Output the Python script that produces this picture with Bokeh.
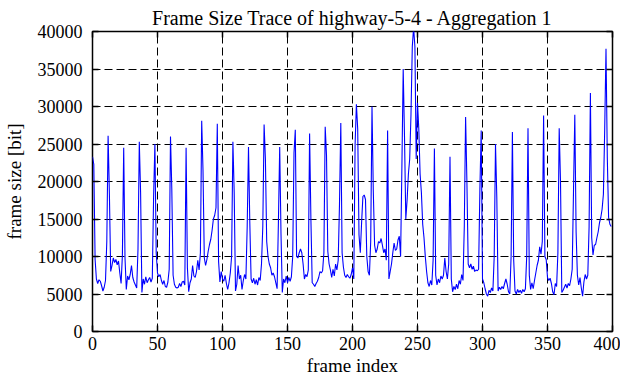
from bokeh.plotting import figure
from bokeh.models import Range1d, LinearAxis, FixedTicker, ColumnDataSource
from bokeh.embed import file_html
from bokeh.resources import INLINE

# Frame sizes [bit] per frame index
frame_sizes = [
    23300, 22300, 9600, 7000, 6400, 6900, 6700, 6100, 5400, 5900,
    6800, 12000, 26100, 18300, 8000, 8800, 9800, 9200, 9600, 8900,
    9400, 7800, 6400, 10200, 24500, 9800, 5600, 7400, 6900, 7600,
    8800, 7200, 6600, 6200, 5800, 11000, 25300, 18500, 5200, 7000,
    6300, 7300, 6500, 6900, 7200, 6600, 7100, 17900, 25000, 10500,
    7800, 7300, 7600, 6800, 6300, 6800, 6000, 5900, 6600, 8300,
    26000, 19000, 7500, 6300, 5900, 5800, 5900, 6400, 6000, 6600,
    6700, 6200, 24500, 8500, 5300, 6500, 7000, 8800, 7400, 7200,
    8000, 9500, 8200, 10500, 28100, 21500, 9800, 8800, 9600, 10700,
    11600, 12300, 13500, 15000, 15500, 16500, 27700, 9300, 6600, 8000,
    7000, 6700, 7500, 6400, 5600, 6500, 7800, 10000, 25300, 18500,
    5400, 6300, 8800, 7000, 7500, 5600, 6800, 7600, 7000, 14000,
    24600, 14500, 7000, 6500, 7100, 6300, 6900, 6200, 7200, 6800,
    9000, 14000, 27600, 23000, 12000, 10000, 9000, 8500, 7500, 7800,
    7300, 6500, 5700, 14500, 24600, 13000, 5200, 7000, 6500, 7400,
    6500, 7200, 6700, 7300, 10000, 23800, 26900, 10000, 9800, 10500,
    11000, 10500, 9000, 7000, 7600, 7300, 8200, 26400, 15000, 6500,
    6300, 6000, 6400, 6700, 7200, 8000, 7800, 8100, 10500, 27300,
    23500, 10700, 9000, 8200, 7200, 8300, 7400, 9000, 8200, 9500,
    17000, 27800, 10500, 8600, 7500, 7200, 7600, 7300, 7100, 7600,
    8500, 7000, 24900, 30300, 27000, 12900, 10500, 14500, 18000, 18200,
    17600, 10000, 8000, 7500, 12000, 30000, 18700, 11500, 10500, 11000,
    12000, 11800, 12400, 11500, 10500, 11000, 9500, 26800, 7000, 8000,
    9000, 10500, 11800, 10800, 11000, 12200, 12700, 10000, 22000, 35000,
    26000, 15000, 17500, 21000, 23000, 29000, 38000, 40500, 38000, 23000,
    30500, 27000, 21000, 18500, 14300, 12500, 10000, 8000, 6500, 6000,
    6800, 6200, 9500, 24400, 7500, 6200, 7000, 6500, 7400, 7000,
    7500, 9800, 8000, 7000, 9000, 23300, 7000, 5300, 6000, 5600,
    6300, 5700, 6800, 6300, 7600, 6800, 14000, 28600, 20000, 9000,
    8500, 9000, 8300, 8700, 8000, 8200, 8100, 8300, 19000, 26800,
    7000, 6500, 5700, 5000, 4700, 5500, 5200, 5800, 5400, 10000,
    25000, 17900, 5400, 5900, 5600, 6000, 5700, 6400, 7000, 6300,
    5300, 5000, 10000, 26600, 9500, 5400, 5000, 5600, 5200, 5500,
    5100, 5600, 5300, 5700, 10000, 27100, 7500, 5600, 6500, 5700,
    6800, 7800, 8800, 9500, 11300, 10300, 12000, 28800, 10000, 9600,
    7200, 6800, 7100, 6400, 5300, 4900, 6400, 6000, 10500, 27100,
    20000, 5200, 5500, 5900, 6300, 5800, 6400, 6100, 7000, 8300,
    18700, 28900, 13300, 7500, 6200, 7200, 5800, 4700, 6600, 7600,
    7000, 7500, 14000, 31800, 12500, 10200, 11500, 11600, 12500, 13300,
    14500, 15200, 16300, 18300, 26900, 37700, 23200, 15200, 14300, 14000,
]
frame_index = list(range(len(frame_sizes)))

x_ticks = [0, 50, 100, 150, 200, 250, 300, 350, 400]
y_ticks = [0, 5000, 10000, 15000, 20000, 25000, 30000, 35000, 40000]

title_text = "Frame Size Trace of highway-5-4 - Aggregation 1"
x_label = "frame index"
y_label = "frame size [bit]"

FONT = "Liberation Serif"
TICK_FONT = "Times New Roman"

src = ColumnDataSource(dict(x=frame_index, y=frame_sizes))

p = figure(
    width=620, height=380,
    x_range=Range1d(x_ticks[0], x_ticks[-1]), y_range=Range1d(y_ticks[0], y_ticks[-1]),
    output_backend="svg", toolbar_location=None,
    min_border_left=92, min_border_right=8, min_border_top=31, min_border_bottom=49,
    title=title_text,
)
p.title.align = "center"
p.title.text_font = FONT
p.title.text_font_size = "20px"
p.title.text_font_style = "normal"
p.title.text_color = "black"
p.title.standoff = 6
p.title.offset = 0

p.line("x", "y", source=src, line_color="#0000ff", line_width=1.1)

p.outline_line_color = "black"
p.outline_line_width = 1.5
p.background_fill_color = "white"
p.border_fill_color = "white"

xt = FixedTicker(ticks=x_ticks, minor_ticks=[])
yt = FixedTicker(ticks=y_ticks, minor_ticks=[])

for ax, tk in ((p.xaxis[0], xt), (p.yaxis[0], yt)):
    ax.ticker = tk
    ax.axis_line_color = None
    ax.major_tick_in = 6
    ax.major_tick_out = 0
    ax.minor_tick_in = 0
    ax.minor_tick_out = 0
    ax.major_tick_line_color = "black"
    ax.major_tick_line_width = 1.5
    ax.major_label_text_font = TICK_FONT
    ax.major_label_text_font_style = "normal"
    ax.major_label_text_font_size = "18px"
    ax.major_label_text_color = "black"
    ax.axis_label_text_font = FONT
    ax.axis_label_text_font_size = "19px"
    ax.axis_label_text_font_style = "normal"
    ax.axis_label_text_color = "black"

p.xaxis[0].axis_label = x_label
p.xaxis[0].major_label_standoff = 5
p.xaxis[0].axis_label_standoff = 2
p.yaxis[0].axis_label = y_label
p.yaxis[0].major_label_standoff = 10
p.yaxis[0].axis_label_standoff = 10

# mirrored inward ticks on the right and top (no labels)
for loc, tk in (("right", yt), ("above", xt)):
    m = LinearAxis(ticker=tk, axis_line_color=None,
                   major_tick_in=6, major_tick_out=0,
                   minor_tick_in=0, minor_tick_out=0,
                   major_tick_line_color="black", major_tick_line_width=1.5,
                   major_label_text_font_size="1px", major_label_text_color=None,
                   major_label_text_alpha=0, major_label_standoff=0)
    p.add_layout(m, loc)

for g, tk in ((p.xgrid[0], xt), (p.ygrid[0], yt)):
    g.ticker = tk
    g.grid_line_color = "black"
    g.grid_line_width = 1
    g.grid_line_dash = "8 4"
    g.grid_line_alpha = 1.0

open("out.html", "w").write(file_html(p, INLINE))
